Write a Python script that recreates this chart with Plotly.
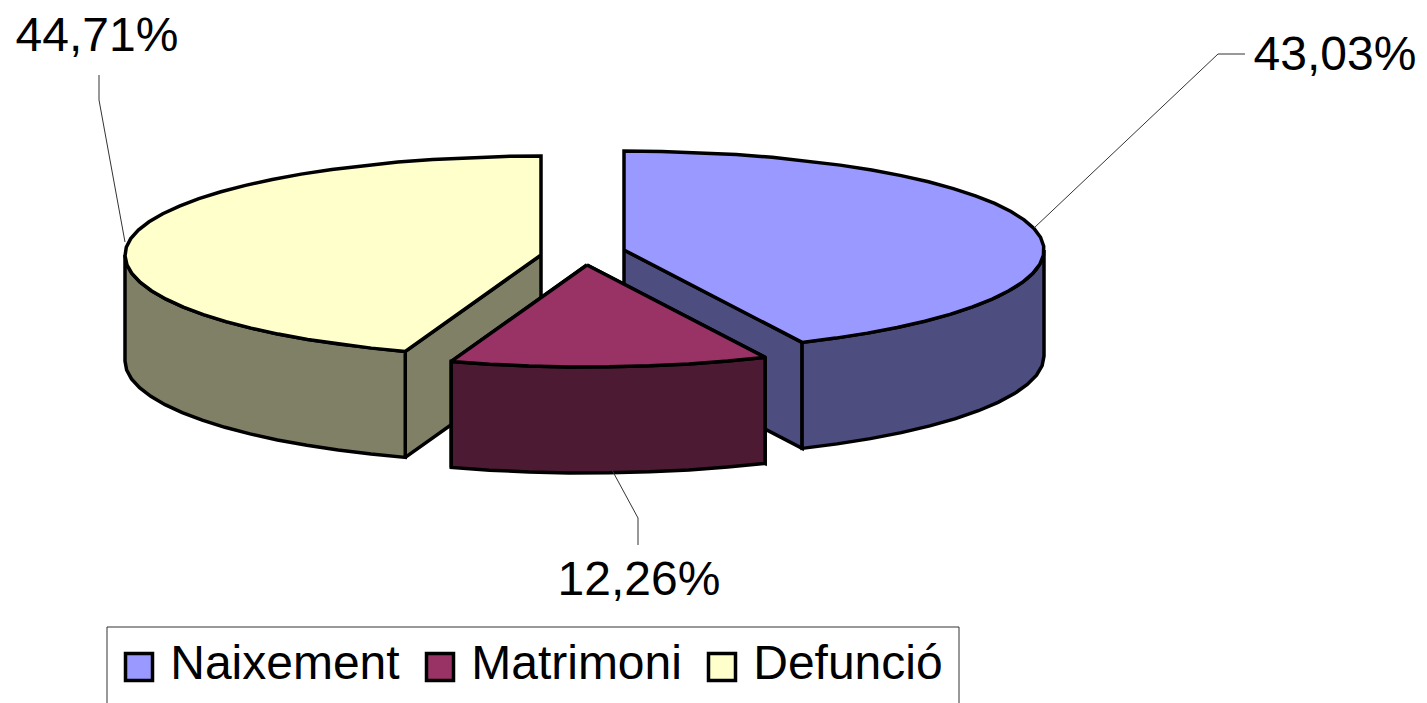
import numpy as np
import plotly.graph_objects as go

categories = ["Naixement", "Matrimoni", "Defunció"]
shares = [43.03, 12.26, 44.71]
top_colors = ["#9999FF", "#993366", "#FFFFCC"]
side_colors = ["#4D4D80", "#4D1A33", "#808066"]

# geometry of the exploded disc, in page pixels
CENTRES = [(624, 250), (587, 265), (541, 255)]
RX_RIGHT, RX_LEFT, RY_BACK, RY_FRONT, DEPTH = 420, 416, 99, 102, 106
EDGE = 3.5
INK = "#000000"
LEADER = "#333333"
FONT = "Liberation Sans, Arial, sans-serif"
FS = 48
LABEL_POS = [(1335, 58), (639, 583), (97, 39)]
LEADERS = [[(1034, 228), (1218, 54), (1245, 54)],
           [(612, 470), (638, 518), (638, 545)],
           [(99, 75), (99, 100), (125, 242)]]
LEGEND_BOX = (107, 627, 959, 720)
LEGEND_Y = 667
LEGEND_X = [139, 440, 722]


def arc(c, a0, a1, dz=0.0):
    n = max(2, int(abs(a1 - a0) / 5) + 1)
    t = np.radians(np.linspace(a0, a1, n))
    s, k = np.sin(t), np.cos(t)
    rx = np.where(s >= 0, RX_RIGHT, RX_LEFT)
    ry = np.where(k >= 0, RY_BACK, RY_FRONT)
    return c[0] + rx * s, c[1] - ry * k + dz


fig = go.Figure()


def poly(x, y, color, name):
    fig.add_trace(go.Scatter(x=list(x), y=list(y), mode="lines", fill="toself",
                             fillcolor=color, line=dict(color=INK, width=EDGE),
                             name=name, showlegend=False, hoverinfo="name"))


edges = np.concatenate([[0], np.cumsum(shares)]) / 100 * 360
spans = list(zip(edges[:-1], edges[1:]))

# painter's order: back slices first, the front slice last
for i in [2, 0, 1]:
    c = CENTRES[i]
    a0, a1 = spans[i]
    name = categories[i]
    # cut walls that face the viewer
    for a in (a0, a1):
        if 90 < a < 270:
            ex, ey = arc(c, a, a + 1e-6)
            ex, ey = ex[0], ey[0]
            poly([c[0], ex, ex, c[0], c[0]],
                 [c[1], ey, ey + DEPTH, c[1] + DEPTH, c[1]], side_colors[i], name)
    # outer wall
    w0, w1 = max(a0, 90), min(a1, 270)
    x1, y1 = arc(c, w0, w1)
    x2, y2 = arc(c, w1, w0, DEPTH)
    poly(np.r_[x1, x2, x1[0]], np.r_[y1, y2, y1[0]], side_colors[i], name)
    # top face
    xa, ya = arc(c, a0, a1)
    poly(np.r_[c[0], xa, c[0]], np.r_[c[1], ya, c[1]], top_colors[i], name)

# leader lines
for pts in LEADERS:
    fig.add_trace(go.Scatter(x=[p[0] for p in pts], y=[p[1] for p in pts], mode="lines",
                             line=dict(color=LEADER, width=1), showlegend=False,
                             hoverinfo="skip"))

# value labels
fig.add_trace(go.Scatter(x=[p[0] for p in LABEL_POS], y=[p[1] for p in LABEL_POS],
                         mode="text",
                         text=[f"{v:.2f}".replace(".", ",") + "%" for v in shares],
                         textposition="middle center",
                         textfont=dict(family=FONT, size=FS, color="#000000"),
                         showlegend=False, hoverinfo="skip"))

# legend
for i, cat in enumerate(categories):
    fig.add_trace(go.Scatter(x=[LEGEND_X[i]], y=[LEGEND_Y], mode="markers+text",
                             marker=dict(symbol="square", size=27, color=top_colors[i],
                                         line=dict(color=INK, width=3.5)),
                             text=[" " + cat], textposition="middle right",
                             textfont=dict(family=FONT, size=FS, color="#000000"),
                             showlegend=False, hoverinfo="skip"))

fig.add_shape(type="rect", x0=LEGEND_BOX[0], y0=LEGEND_BOX[1], x1=LEGEND_BOX[2], y1=LEGEND_BOX[3],
              line=dict(color="#333333", width=1), fillcolor="white", layer="below")

fig.update_layout(width=1427, height=703, margin=dict(l=0, r=0, t=0, b=0),
                  paper_bgcolor="white", plot_bgcolor="white", showlegend=False,
                  xaxis=dict(range=[0, 1427], visible=False, fixedrange=True),
                  yaxis=dict(range=[703, 0], visible=False, fixedrange=True))

fig.write_html("out.html", config={"displayModeBar": False},
               post_script="document.body.style.margin='0';document.body.style.overflow='hidden';")
